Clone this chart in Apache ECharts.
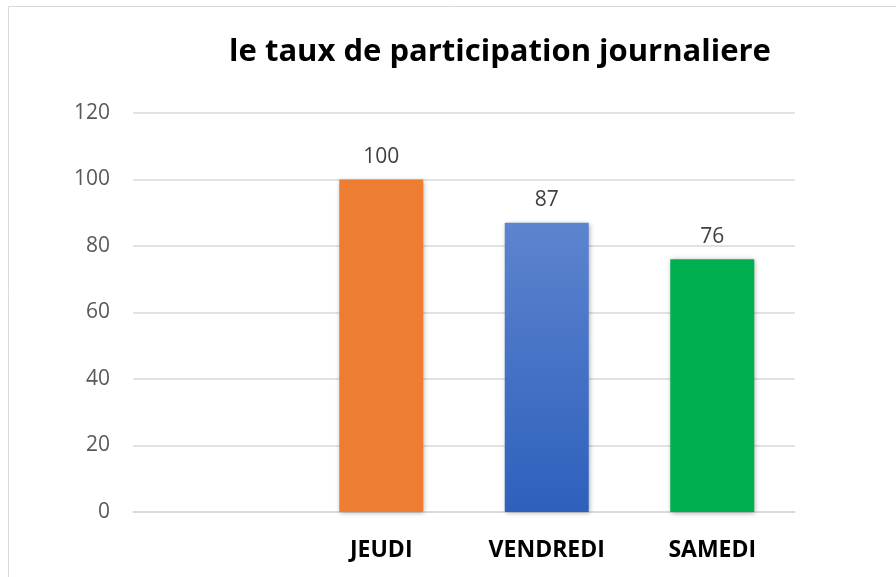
<!DOCTYPE html>
<html><head><meta charset="utf-8">
<script src="https://cdn.jsdelivr.net/npm/echarts@6/dist/echarts.min.js"></script>
<style>html,body{margin:0;padding:0;background:#fff}#c{width:896px;height:577px}</style>
</head><body><div id="c"></div>
<script>
const titleText = 'le taux de participation journaliere';
const categories = ['', 'JEUDI', 'VENDREDI', 'SAMEDI'];
const values = [null, 100, 87, 76];
const yTicks = {min: 0, max: 120, interval: 20};

const colors = [
  '#ED7D31',
  '#ED7D31',
  new echarts.graphic.LinearGradient(0, 0, 0, 1, [{offset: 0, color: '#5D84CF'}, {offset: 1, color: '#2E60BC'}]),
  '#00B050'
];
const chart = echarts.init(document.getElementById('c'), null, {renderer: 'canvas'});
chart.setOption({
  animation: false,
  backgroundColor: '#fff',
  graphic: [{
    type: 'rect', shape: {x: 8.5, y: 6.5, width: 900, height: 600},
    style: {fill: 'none', stroke: '#D9D9D9', lineWidth: 1}, silent: true, z: -1
  }],
  title: {
    text: titleText, left: 495, top: 32, textAlign: 'center',
    textStyle: {fontFamily: 'Open Sans', fontWeight: 'bold', fontSize: 31, color: '#000'}
  },
  grid: {left: 133, right: 101, top: 113, bottom: 65},
  xAxis: {
    type: 'category', data: categories,
    axisLine: {lineStyle: {color: '#D9D9D9', width: 1.5}},
    axisTick: {show: false},
    axisLabel: {fontFamily: 'Open Sans', fontWeight: 'bold', fontSize: 23, color: '#000', margin: 27}
  },
  yAxis: {
    type: 'value', min: yTicks.min, max: yTicks.max, interval: yTicks.interval,
    axisLine: {show: false}, axisTick: {show: false},
    splitLine: {lineStyle: {color: '#D9D9D9', width: 1.5}},
    axisLabel: {fontFamily: 'Open Sans', fontSize: 21, color: '#595959', margin: 23}
  },
  series: [{
    type: 'bar', data: values.map((v, i) => ({value: v, itemStyle: {color: colors[i]}})),
    barWidth: 84,
    itemStyle: {shadowColor: 'rgba(0,0,0,0.35)', shadowBlur: 5, shadowOffsetX: 1, shadowOffsetY: 1},
    label: {show: true, position: 'top', distance: 12, fontFamily: 'Open Sans', fontSize: 21, color: '#404040'}
  }]
});
</script></body></html>
